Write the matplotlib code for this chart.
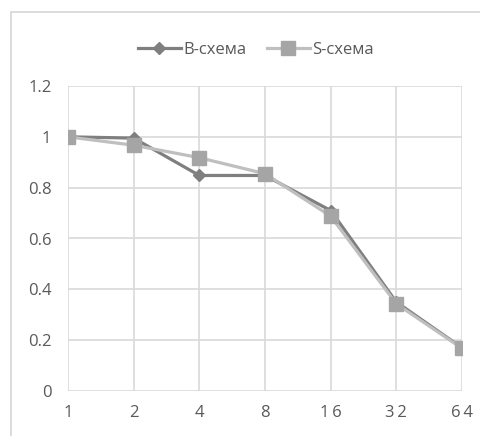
import matplotlib
matplotlib.use("Agg")
import matplotlib.pyplot as plt
from matplotlib.patches import Rectangle

categories = ["1", "2", "4", "8", "1\u20096", "3\u20092", "6\u20094"]
b_scheme = [1.0, 0.995, 0.848, 0.848, 0.71, 0.35, 0.17]
s_scheme = [1.0, 0.967, 0.918, 0.855, 0.688, 0.343, 0.168]
y_ticks = [0, 0.2, 0.4, 0.6, 0.8, 1, 1.2]
y_labels = ["0", "0.2", "0.4", "0.6", "0.8", "1", "1.2"]

plt.rcParams['font.family'] = ['Open Sans', 'DejaVu Sans']

fig = plt.figure(figsize=(4.8, 4.36), dpi=100)
fig.patches.append(Rectangle((11/480, -0.1), 1.2, 1 - 12/436 + 0.1, transform=fig.transFigure,
                             fill=False, edgecolor="#d9d9d9", linewidth=1.3))
ax = fig.add_axes([68/480, 45/436, 394/480, 305/436])

x = list(range(len(categories)))
ax.plot(x, b_scheme, color="#7f7f7f", linewidth=2.3, marker="D", markersize=6,
        markerfacecolor="#7f7f7f", markeredgecolor="#7f7f7f", label="B-схема", zorder=3)
ax.plot(x, s_scheme, color="#bfbfbf", linewidth=2.3, marker="s", markersize=10,
        markerfacecolor="#a5a5a5", markeredgecolor="#a5a5a5", label="S-схема", zorder=4)

ax.set_xlim(0, len(categories) - 1)
ax.set_ylim(0, 1.2)
ax.set_xticks(x)
ax.set_xticklabels(categories)
ax.set_yticks(y_ticks)
ax.set_yticklabels(y_labels)
ax.grid(True, color="#d9d9d9", linewidth=1.2)
ax.set_axisbelow(True)
for s in ax.spines.values():
    s.set_visible(False)
ax.tick_params(axis="both", length=0, labelsize=12, labelcolor="#595959")
ax.tick_params(axis="y", pad=12)
ax.tick_params(axis="x", pad=10)
for lbl in ax.get_xticklabels():
    lbl.set_clip_on(False)

leg = fig.legend(loc="center", bbox_to_anchor=(256/480, 1 - 50/436), ncol=2, frameon=False,
                 fontsize=12, handlelength=2.6, columnspacing=1.2, handletextpad=0.15,
                 labelcolor="#595959")

fig.savefig("out.png", dpi=100)
